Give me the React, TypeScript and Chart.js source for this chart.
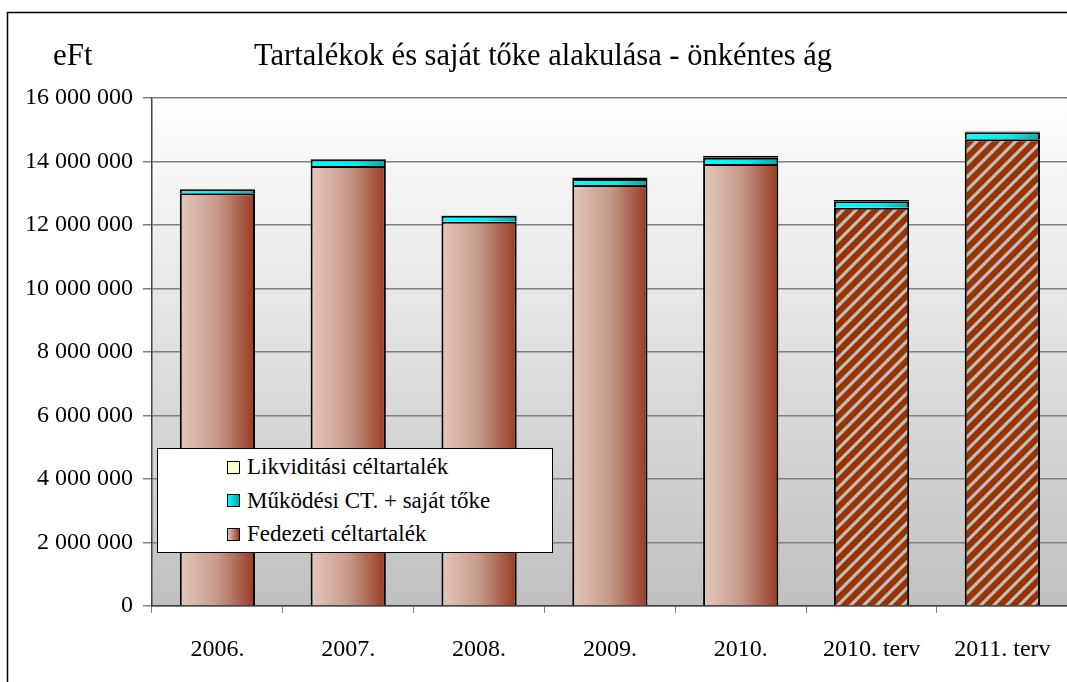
import React, { useEffect, useRef } from "react";
import { Chart, registerables } from "chart.js";

Chart.register(...registerables);

const categories = ["2006.", "2007.", "2008.", "2009.", "2010.", "2010. terv", "2011. terv"];
const fedezeti = [13000000, 13860000, 12100000, 13260000, 13920000, 12540000, 14700000];
const mukodesi = [126000, 210000, 190000, 190000, 200000, 210000, 220000];
const likviditasi = [10000, 10000, 10000, 50000, 60000, 40000, 25000];
const isPlan = [false, false, false, false, false, true, true];
const yTicks = [0, 2000000, 4000000, 6000000, 8000000, 10000000, 12000000, 14000000, 16000000];

const seriesNames = ["Likviditási céltartalék", "Működési CT. + saját tőke", "Fedezeti céltartalék"];
const titleText = "Tartalékok és saját tőke alakulása - önkéntes ág";
const unitText = "eFt";

const FONT = "'Liberation Serif', 'Times New Roman', serif";
const BAR_PCT = 0.575;
const EXTRA_RIGHT = 6;

function fmt(v: number): string {
  return String(Math.round(v)).replace(/\B(?=(\d{3})+(?!\d))/g, " ");
}

function makeHatch(): CanvasPattern | string {
  const c = document.createElement("canvas");
  c.width = 13;
  c.height = 13;
  const p = c.getContext("2d");
  if (!p) return "#993300";
  p.fillStyle = "#993300";
  p.fillRect(0, 0, 13, 13);
  p.strokeStyle = "#c0bcb8";
  p.lineWidth = 3.2;
  p.beginPath();
  p.moveTo(-3, 16);
  p.lineTo(16, -3);
  p.moveTo(-3, 3);
  p.lineTo(3, -3);
  p.moveTo(10, 16);
  p.lineTo(16, 10);
  p.stroke();
  const pat = p.createPattern(c, "repeat");
  return pat || "#993300";
}

function barGradient(ctx: any, stops: [number, string][], fallback: string) {
  const chart = ctx.chart;
  const area = chart.chartArea;
  if (!area || ctx.type !== "data") return fallback;
  const xs = chart.scales.x;
  const cx = xs.getPixelForValue(ctx.dataIndex);
  const w = ((xs.right - xs.left) / categories.length) * BAR_PCT;
  const g = chart.ctx.createLinearGradient(cx - w / 2, 0, cx + w / 2, 0);
  stops.forEach(([o, c]) => g.addColorStop(o, c));
  return g;
}

const extendPlugin = {
  id: "extendRight",
  afterLayout(chart: any) {
    const xs = chart.scales.x;
    xs.right += EXTRA_RIGHT;
    xs.width += EXTRA_RIGHT;
    xs.configure();
    chart.chartArea.right += EXTRA_RIGHT;
    chart.chartArea.width += EXTRA_RIGHT;
  },
};

const framePlugin = {
  id: "frameBg",
  beforeDraw(chart: any) {
    const { ctx, chartArea } = chart;
    ctx.save();
    ctx.fillStyle = "#ffffff";
    ctx.fillRect(0, 0, chart.width, chart.height);
    const g = ctx.createLinearGradient(0, chartArea.top, 0, chartArea.bottom);
    g.addColorStop(0, "#ffffff");
    g.addColorStop(1, "#c0c0c0");
    ctx.fillStyle = g;
    ctx.fillRect(chartArea.left, chartArea.top, chartArea.right - chartArea.left, chartArea.bottom - chartArea.top);
    ctx.strokeStyle = "#000000";
    ctx.lineWidth = 1.5;
    ctx.beginPath();
    ctx.moveTo(7.5, chart.height);
    ctx.lineTo(7.5, 12.5);
    ctx.lineTo(chart.width, 12.5);
    ctx.stroke();
    ctx.restore();
  },
};

export default function App() {
  const ref = useRef<HTMLCanvasElement | null>(null);

  useEffect(() => {
    if (!ref.current) return;
    const hatch = makeHatch();
    const chart = new Chart(ref.current, {
      type: "bar",
      data: {
        labels: categories,
        datasets: [
          {
            label: seriesNames[2],
            data: fedezeti,
            backgroundColor: (ctx: any) =>
              isPlan[ctx.dataIndex]
                ? hatch
                : barGradient(ctx, [[0, "#e4c8ba"], [0.5, "#c69a8c"], [1, "#983a22"]], "#c69a8c"),
            borderColor: "#000000",
            borderWidth: 2,
            borderSkipped: "bottom",
            categoryPercentage: 1,
            barPercentage: BAR_PCT,
          },
          {
            label: seriesNames[1],
            data: mukodesi,
            backgroundColor: (ctx: any) => barGradient(ctx, [[0, "#00ffff"], [0.6, "#00eeee"], [1, "#00a8a8"]], "#00e0e0"),
            borderColor: "#000000",
            borderWidth: 2,
            borderSkipped: "bottom",
            categoryPercentage: 1,
            barPercentage: BAR_PCT,
          },
          {
            label: seriesNames[0],
            data: likviditasi,
            backgroundColor: "#ffffcc",
            borderColor: "#000000",
            borderWidth: 2,
            borderSkipped: false,
            categoryPercentage: 1,
            barPercentage: BAR_PCT,
          },
        ],
      },
      options: {
        responsive: false,
        animation: false,
        devicePixelRatio: 1,
        layout: { padding: { top: 98, left: 0, right: 0, bottom: 0 } },
        plugins: {
          legend: { display: false },
          title: { display: false },
          tooltip: { enabled: false },
        },
        scales: {
          x: {
            stacked: true,
            offset: true,
            grid: {
              display: true,
              drawOnChartArea: false,
              drawTicks: true,
              tickLength: 7,
              color: "#808080",
              offset: true,
            },
            border: { display: true, color: "#404040", width: 1.5 },
            ticks: {
              color: "#000000",
              font: { family: FONT, size: 24 },
              padding: 22,
              maxRotation: 0,
              autoSkip: false,
            },
            afterFit(scale: any) {
              scale.height = 76;
            },
          },
          y: {
            stacked: true,
            min: 0,
            max: 16000000,
            afterBuildTicks(scale: any) {
              scale.ticks = yTicks.map((v) => ({ value: v }));
            },
            grid: {
              display: true,
              drawOnChartArea: true,
              drawTicks: true,
              tickLength: 9,
              color: "#808080",
              lineWidth: 1.5,
            },
            border: { display: true, color: "#404040", width: 1.5 },
            ticks: {
              color: "#000000",
              font: { family: FONT, size: 24 },
              padding: 10,
              callback: (v: any) => fmt(Number(v)),
            },
            afterFit(scale: any) {
              scale.width = 152;
            },
          },
        },
      },
      plugins: [extendPlugin, framePlugin],
    });
    return () => chart.destroy();
  }, []);

  const legendColors = [
    { background: "#ffffcc" },
    { background: "linear-gradient(to right, #00ffff, #00a8a8)" },
    { background: "linear-gradient(to right, #e4c8ba, #983a22)" },
  ];

  return (
    <div style={{ position: "fixed", left: 0, top: 0, width: 1067, height: 682, background: "#fff", overflow: "hidden" }}>
      <canvas ref={ref} width={1067} height={682} style={{ position: "absolute", left: 0, top: 0 }} />
      <div
        style={{
          position: "absolute",
          left: 53,
          top: 36,
          fontFamily: FONT,
          fontSize: 31,
          lineHeight: "38px",
          color: "#000",
        }}
      >
        {unitText}
      </div>
      <div
        style={{
          position: "absolute",
          left: 240,
          width: 606,
          top: 36,
          textAlign: "center",
          fontFamily: FONT,
          fontSize: 30.5,
          lineHeight: "38px",
          color: "#000",
          whiteSpace: "nowrap",
        }}
      >
        {titleText}
      </div>
      <div
        style={{
          position: "absolute",
          left: 157,
          top: 448,
          width: 394,
          height: 103,
          background: "#ffffff",
          border: "1px solid #000",
          fontFamily: FONT,
          fontSize: 23,
          color: "#000",
        }}
      >
        {seriesNames.map((n, i) => (
          <div
            key={n}
            style={{ position: "absolute", left: 69, top: 4 + i * 33.5, height: 28, display: "flex", alignItems: "center", whiteSpace: "nowrap" }}
          >
            <span
              style={{
                display: "inline-block",
                width: 11,
                height: 11,
                border: "1.5px solid #000",
                marginRight: 7,
                ...legendColors[i],
              }}
            />
            <span>{n}</span>
          </div>
        ))}
      </div>
    </div>
  );
}
